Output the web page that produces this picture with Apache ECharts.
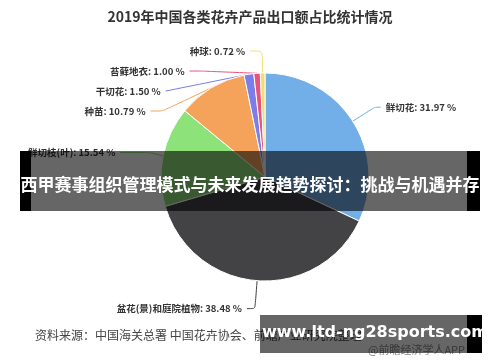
<!DOCTYPE html>
<html><head><meta charset="utf-8">
<script src="https://cdn.jsdelivr.net/npm/echarts@6/dist/echarts.min.js"></script>
<style>html,body{margin:0;padding:0;background:#fff}#c{width:500px;height:362px}</style>
</head><body><div id="c"></div>
<script>
var categories = ['鲜切花', '盆花(景)和庭院植物', '鲜切枝(叶)', '种苗', '干切花', '苔藓地衣', '种球'];
var shares = [31.97, 38.48, 15.54, 10.79, 1.50, 1.00, 0.72];
var colors = ['#72aee8', '#434346', '#8ee27a', '#f5a25b', '#7b7de8', '#e8537a', '#f0df6e'];
var titleText = '2019年中国各类花卉产品出口额占比统计情况';
var sourceText = '资料来源：中国海关总署 中国花卉协会、前瞻产业研究院整理';
var bannerText = '西甲赛事组织管理模式与未来发展趋势探讨：挑战与机遇并存';
var siteText = 'www.ltd-ng28sports.com';
var appText = '@前瞻经济学人APP';

var F = '"Noto Sans CJK SC", "Noto Sans", sans-serif';
var chart = echarts.init(document.getElementById('c'), null, {renderer: 'canvas'});
var lineOverrides = {0: {length: 26, length2: 6}, 1: {length: 28, length2: 8}, 2: {length: 18, length2: 30}};
var data = categories.map(function (n, i) {
  var d = {name: n, value: shares[i], itemStyle: {color: colors[i]}};
  if (lineOverrides[i]) d.labelLine = lineOverrides[i];
  return d;
});
chart.setOption({
  backgroundColor: '#fff',
  animation: false,
  title: {text: titleText, left: 'center', top: 5, textStyle: {fontFamily: F, fontSize: 14, fontWeight: 'bold', color: '#333'}},
  series: [{
    type: 'pie',
    center: [265, 177],
    radius: 104,
    startAngle: 90,
    clockwise: true,
    data: data,
    itemStyle: {borderColor: '#fff', borderWidth: 1},
    label: {
      formatter: function (p) { return p.name + ': ' + p.value.toFixed(2) + ' %'; },
      fontFamily: F, fontSize: 9.5, fontWeight: 'bold', color: '#333', lineHeight: 18
    },
    labelLine: {length: 22, length2: 12, smooth: 0.2, lineStyle: {width: 1}}
  }],
  graphic: [
    {type: 'text', z: 100, left: 35, top: 329, style: {text: sourceText, font: '12px ' + F, fill: '#444'}},
    {type: 'text', z: 100, left: 368, top: 344, style: {text: appText, font: '11px ' + F, fill: '#888'}},
    {type: 'rect', z: 100, shape: {x: 20, y: 151, width: 11, height: 60}, style: {fill: '#000'}},
    {type: 'rect', z: 100, shape: {x: 467, y: 151, width: 13, height: 60}, style: {fill: '#000'}},
    {type: 'rect', z: 100, shape: {x: 31, y: 151, width: 436, height: 60}, style: {fill: 'rgba(0,0,0,0.6)'}},
    {type: 'text', z: 101, x: 250, y: 185, style: {text: bannerText, font: 'bold 17px ' + F, fill: '#fff', align: 'center', verticalAlign: 'middle'}},
    {type: 'rect', z: 100, shape: {x: 467, y: 315, width: 15, height: 38}, style: {fill: '#000'}},
    {type: 'rect', z: 100, shape: {x: 260, y: 315, width: 207, height: 38}, style: {fill: 'rgba(0,0,0,0.6)'}},
    {type: 'text', z: 101, x: 375, y: 333, style: {text: siteText, font: 'bold 16px "DejaVu Sans", sans-serif', fill: '#fff', align: 'center', verticalAlign: 'middle'}}
  ]
});
</script></body></html>
